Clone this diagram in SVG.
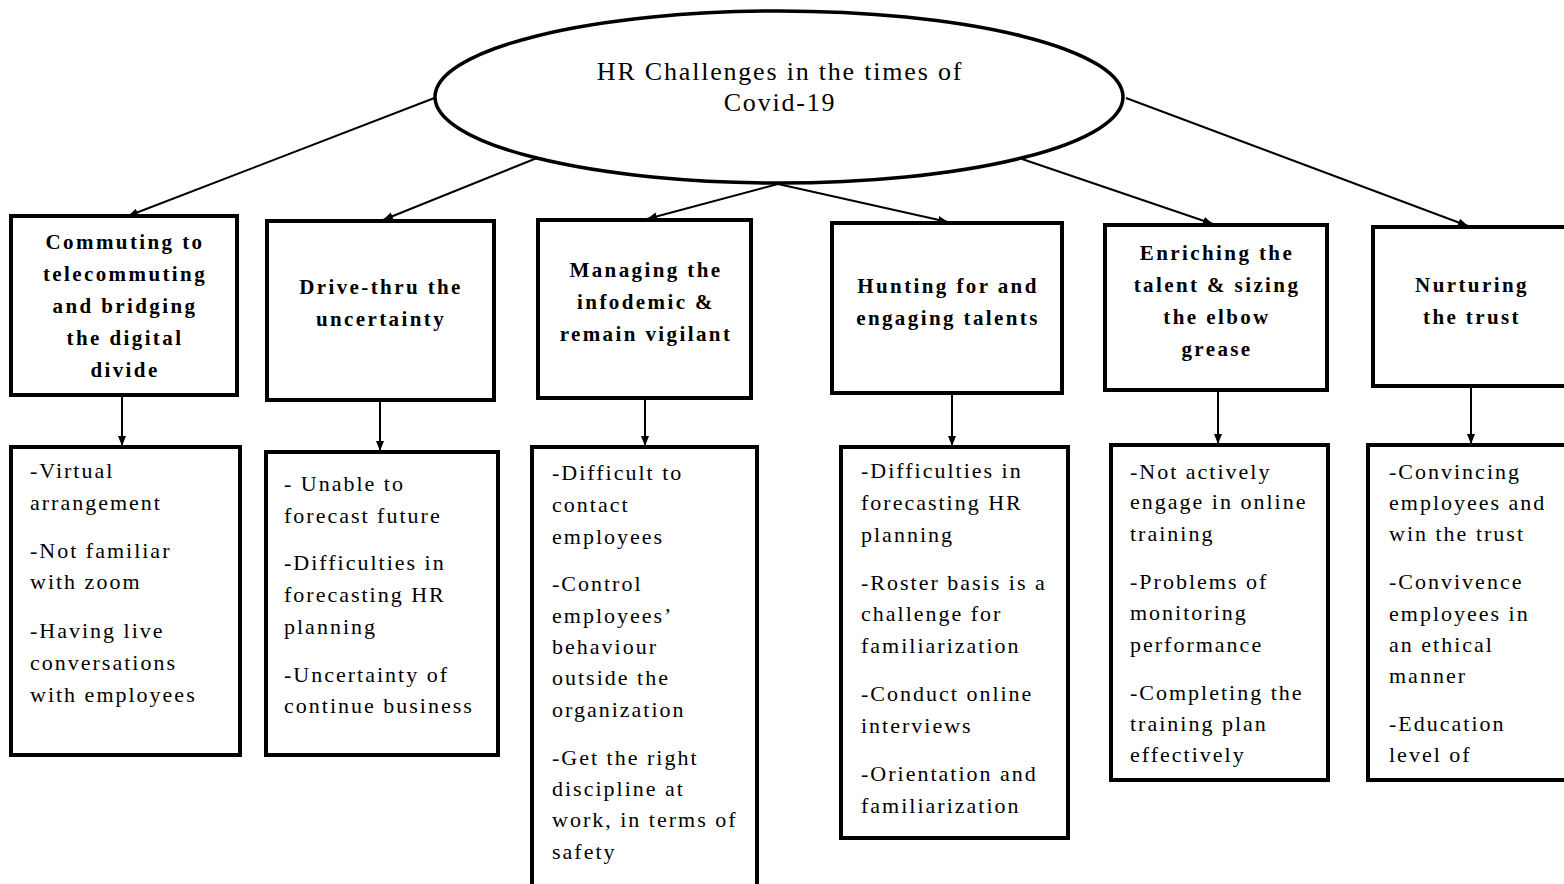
<svg xmlns="http://www.w3.org/2000/svg" width="1564" height="884" viewBox="0 0 1564 884">
<defs>
<marker id="ah" viewBox="0 0 10 10" refX="10" refY="5" markerWidth="10" markerHeight="10" markerUnits="userSpaceOnUse" orient="auto">
<path d="M0,1 L10,5 L0,9 Z" fill="#000"/>
</marker>
<style>
.box{fill:#fff;stroke:#000;stroke-width:4}
.ell{fill:#fff;stroke:#000;stroke-width:3.5}
.h{font-family:"Liberation Serif","Times New Roman",serif;font-size:21px;font-weight:bold;letter-spacing:2.4px;text-anchor:middle;fill:#000}
.t{font-family:"Liberation Serif","Times New Roman",serif;font-size:22px;letter-spacing:2px;fill:#000}
.title{font-family:"Liberation Serif","Times New Roman",serif;font-size:26px;letter-spacing:1.8px;text-anchor:middle;fill:#000}
.c{stroke:#000;stroke-width:2;fill:none;marker-end:url(#ah)}
</style>
</defs>
<rect width="1564" height="884" fill="#fff"/>

<g id="connectors">
<line class="c" x1="437" y1="97" x2="128" y2="216"/>
<line class="c" x1="537" y1="158" x2="383" y2="220"/>
<line class="c" x1="778" y1="184" x2="647" y2="219"/>
<line class="c" x1="778" y1="184" x2="948" y2="222"/>
<line class="c" x1="1022" y1="159" x2="1213" y2="224"/>
<line class="c" x1="1126" y1="98" x2="1468" y2="226"/>
<line class="c" x1="122" y1="397" x2="122" y2="446"/>
<line class="c" x1="380" y1="402" x2="380" y2="451"/>
<line class="c" x1="645" y1="400" x2="645" y2="446"/>
<line class="c" x1="952" y1="395" x2="952" y2="446"/>
<line class="c" x1="1218" y1="392" x2="1218" y2="444"/>
<line class="c" x1="1471" y1="388" x2="1471" y2="444"/>
</g>

<g id="root">
<ellipse class="ell" cx="779" cy="97" rx="344" ry="86"/>
<text class="title" x="780" y="80">HR Challenges in the times of</text>
<text class="title" x="780" y="111">Covid-19</text>
</g>

<g id="n1">
<rect class="box" x="11" y="216" width="226" height="179"/>
<text class="h" x="125" y="249">Commuting to</text>
<text class="h" x="125" y="281">telecommuting</text>
<text class="h" x="125" y="313">and bridging</text>
<text class="h" x="125" y="345">the digital</text>
<text class="h" x="125" y="377">divide</text>
</g>
<g id="n2">
<rect class="box" x="267" y="221" width="227" height="179"/>
<text class="h" x="381" y="294">Drive-thru the</text>
<text class="h" x="381" y="326">uncertainty</text>
</g>
<g id="n3">
<rect class="box" x="538" y="220" width="213" height="178"/>
<text class="h" x="646" y="277">Managing the</text>
<text class="h" x="646" y="309">infodemic &amp;</text>
<text class="h" x="646" y="341">remain vigilant</text>
</g>
<g id="n4">
<rect class="box" x="832" y="223" width="230" height="170"/>
<text class="h" x="948" y="293">Hunting for and</text>
<text class="h" x="948" y="325">engaging talents</text>
</g>
<g id="n5">
<rect class="box" x="1105" y="225" width="222" height="165"/>
<text class="h" x="1217" y="260">Enriching the</text>
<text class="h" x="1217" y="292">talent &amp; sizing</text>
<text class="h" x="1217" y="324">the elbow</text>
<text class="h" x="1217" y="356">grease</text>
</g>
<g id="n6">
<rect class="box" x="1373" y="227" width="200" height="159"/>
<text class="h" x="1472" y="292">Nurturing</text>
<text class="h" x="1472" y="324">the trust</text>
</g>

<g id="d1">
<rect class="box" x="11" y="447" width="229" height="308"/>
<text class="t" x="30" y="478">-Virtual</text>
<text class="t" x="30" y="510">arrangement</text>
<text class="t" x="30" y="558">-Not familiar</text>
<text class="t" x="30" y="589">with zoom</text>
<text class="t" x="30" y="638">-Having live</text>
<text class="t" x="30" y="670">conversations</text>
<text class="t" x="30" y="702">with employees</text>
</g>
<g id="d2">
<rect class="box" x="266" y="452" width="232" height="303"/>
<text class="t" x="284" y="491">- Unable to</text>
<text class="t" x="284" y="523">forecast future</text>
<text class="t" x="284" y="570">-Difficulties in</text>
<text class="t" x="284" y="602">forecasting HR</text>
<text class="t" x="284" y="634">planning</text>
<text class="t" x="284" y="682">-Uncertainty of</text>
<text class="t" x="284" y="713">continue business</text>
</g>
<g id="d3">
<rect class="box" x="532" y="447" width="225" height="440"/>
<text class="t" x="552" y="480">-Difficult to</text>
<text class="t" x="552" y="512">contact</text>
<text class="t" x="552" y="544">employees</text>
<text class="t" x="552" y="591">-Control</text>
<text class="t" x="552" y="623">employees’</text>
<text class="t" x="552" y="654">behaviour</text>
<text class="t" x="552" y="685">outside the</text>
<text class="t" x="552" y="717">organization</text>
<text class="t" x="552" y="765">-Get the right</text>
<text class="t" x="552" y="796">discipline at</text>
<text class="t" x="552" y="827">work, in terms of</text>
<text class="t" x="552" y="859">safety</text>
</g>
<g id="d4">
<rect class="box" x="841" y="447" width="227" height="391"/>
<text class="t" x="861" y="478">-Difficulties in</text>
<text class="t" x="861" y="510">forecasting HR</text>
<text class="t" x="861" y="542">planning</text>
<text class="t" x="861" y="590">-Roster basis is a</text>
<text class="t" x="861" y="621">challenge for</text>
<text class="t" x="861" y="653">familiarization</text>
<text class="t" x="861" y="701">-Conduct online</text>
<text class="t" x="861" y="733">interviews</text>
<text class="t" x="861" y="781">-Orientation and</text>
<text class="t" x="861" y="813">familiarization</text>
</g>
<g id="d5">
<rect class="box" x="1111" y="445" width="217" height="335"/>
<text class="t" x="1130" y="479">-Not actively</text>
<text class="t" x="1130" y="509">engage in online</text>
<text class="t" x="1130" y="541">training</text>
<text class="t" x="1130" y="589">-Problems of</text>
<text class="t" x="1130" y="620">monitoring</text>
<text class="t" x="1130" y="652">performance</text>
<text class="t" x="1130" y="700">-Completing the</text>
<text class="t" x="1130" y="731">training plan</text>
<text class="t" x="1130" y="762">effectively</text>
</g>
<g id="d6">
<rect class="box" x="1368" y="445" width="205" height="335"/>
<text class="t" x="1389" y="479">-Convincing</text>
<text class="t" x="1389" y="510">employees and</text>
<text class="t" x="1389" y="541">win the trust</text>
<text class="t" x="1389" y="589">-Convivence</text>
<text class="t" x="1389" y="621">employees in</text>
<text class="t" x="1389" y="652">an ethical</text>
<text class="t" x="1389" y="683">manner</text>
<text class="t" x="1389" y="731">-Education</text>
<text class="t" x="1389" y="762">level of</text>
</g>
</svg>
